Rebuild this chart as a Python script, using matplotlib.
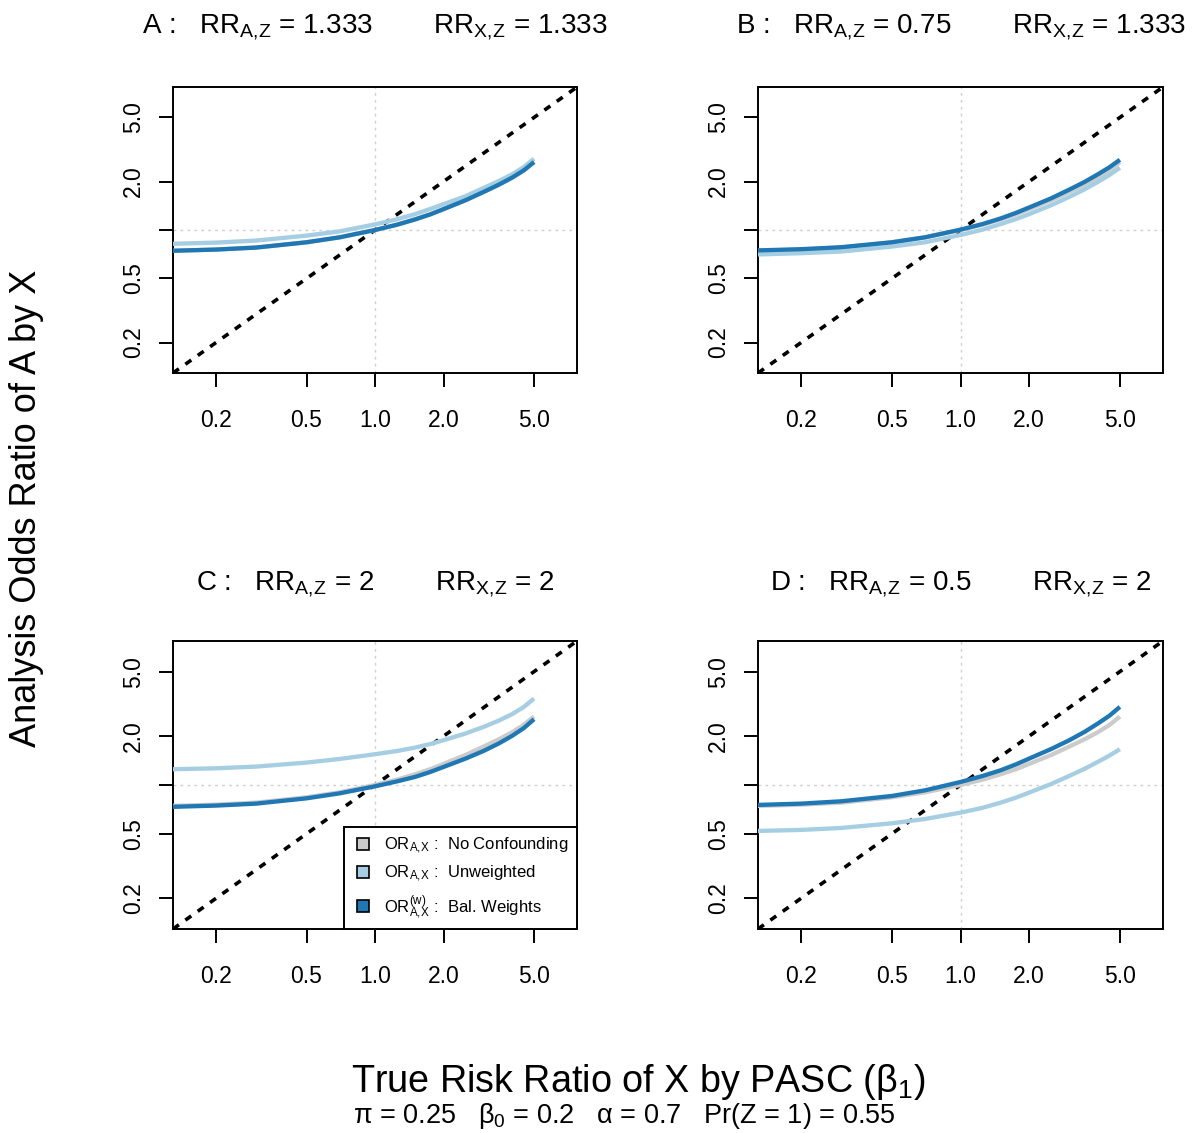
"""Analysis odds ratio of A by X against the true risk ratio, four confounding scenarios."""
import matplotlib
matplotlib.use("Agg")
import matplotlib.pyplot as plt
from matplotlib.lines import Line2D

plt.rcParams["font.family"] = ["Liberation Sans", "DejaVu Sans"]
plt.rcParams["mathtext.fontset"] = "custom"
plt.rcParams["mathtext.rm"] = "Liberation Sans"
plt.rcParams["mathtext.it"] = "Liberation Sans:italic"
plt.rcParams["mathtext.default"] = "regular"

# true risk ratio (beta_1) grid
X_RR = [0.125, 0.2, 0.3, 0.5, 0.7, 1.0, 1.25, 1.5, 1.75, 2.0, 2.5, 3.0, 3.5, 4.0, 4.5, 5.0]

# no-confounding OR, same in every panel
OR_NOCONF = [0.742, 0.756, 0.778, 0.839, 0.901, 1.000, 1.079, 1.164, 1.251, 1.348,
             1.531, 1.724, 1.912, 2.114, 2.344, 2.642]

# unweighted and balancing-weight ORs per panel
A_UNW = [0.820, 0.835, 0.860, 0.923, 0.981, 1.084, 1.167, 1.255, 1.352, 1.447,
         1.622, 1.825, 2.015, 2.216, 2.458, 2.769]
A_BAL = [0.742, 0.756, 0.778, 0.839, 0.901, 1.000, 1.079, 1.164, 1.251, 1.348,
         1.531, 1.724, 1.912, 2.114, 2.344, 2.642]
B_UNW = [0.704, 0.718, 0.735, 0.789, 0.839, 0.931, 1.005, 1.089, 1.169, 1.255,
         1.426, 1.606, 1.789, 1.988, 2.197, 2.437]
B_BAL = [0.746, 0.760, 0.782, 0.839, 0.901, 1.005, 1.089, 1.180, 1.277, 1.380,
         1.574, 1.782, 1.989, 2.216, 2.453, 2.731]
C_UNW = [1.249, 1.267, 1.298, 1.374, 1.447, 1.547, 1.620, 1.700, 1.789, 1.887,
         2.077, 2.280, 2.494, 2.731, 3.021, 3.412]
C_BAL = [0.732, 0.746, 0.767, 0.827, 0.888, 0.981, 1.052, 1.121, 1.203, 1.291,
         1.454, 1.621, 1.803, 2.006, 2.238, 2.543]
D_UNW = [0.520, 0.528, 0.543, 0.580, 0.617, 0.675, 0.723, 0.778, 0.835, 0.897,
         1.014, 1.137, 1.258, 1.387, 1.518, 1.661]
D_BAL = [0.752, 0.767, 0.793, 0.855, 0.927, 1.043, 1.136, 1.232, 1.339, 1.454,
         1.667, 1.887, 2.125, 2.391, 2.674, 3.030]

PANELS = ["A", "B", "C", "D"]
RR_AZ = ["1.333", "0.75", "2", "0.5"]
RR_XZ = ["1.333", "1.333", "2", "2"]
UNW = [A_UNW, B_UNW, C_UNW, D_UNW]
BAL = [A_BAL, B_BAL, C_BAL, D_BAL]

TICKS = [0.2, 0.5, 1.0, 2.0, 5.0]
X_TICKLABELS = ["0.2", "0.5", "1.0", "2.0", "5.0"]
Y_TICKLABELS = ["0.2", "0.5", "", "2.0", "5.0"]

GRAY = "#cbcbcb"
LIGHT = "#a6cee3"
DARK = "#1f78b4"
LIM = (0.1294, 7.73)

fig = plt.figure(figsize=(11.99, 11.33), dpi=100)
positions = [
    [0.1443, 0.6708, 0.3370, 0.2524],
    [0.6322, 0.6708, 0.3378, 0.2524],
    [0.1443, 0.1801, 0.3370, 0.2542],
    [0.6322, 0.1801, 0.3378, 0.2542],
]
title_y = [0.9709, 0.9709, 0.4793, 0.4793]
curve_kw = dict(lw=3.1, solid_capstyle="butt", solid_joinstyle="round")

for i, pos in enumerate(positions):
    ax = fig.add_axes(pos)
    ax.set_xscale("log")
    ax.set_yscale("log")
    ax.set_xlim(*LIM)
    ax.set_ylim(*LIM)
    ax.minorticks_off()
    ax.axvline(1.0, color="#d0d0d0", lw=1.0, ls=(0, (2, 3)), zorder=1)
    ax.axhline(1.0, color="#d0d0d0", lw=1.0, ls=(0, (2, 3)), zorder=1)
    ax.axline((1.0, 1.0), (2.0, 2.0), color="black", lw=2.6,
              ls=(0, (2.0, 2.2)), zorder=2)
    ax.plot(X_RR, OR_NOCONF, color=GRAY, zorder=3, **curve_kw)
    ax.plot(X_RR, UNW[i], color=LIGHT, zorder=4, **curve_kw)
    ax.plot(X_RR, BAL[i], color=DARK, zorder=5, **curve_kw)

    ax.set_xticks(TICKS)
    ax.set_xticklabels(X_TICKLABELS, fontsize=16.5)
    ax.set_yticks(TICKS)
    ax.set_yticklabels(Y_TICKLABELS, fontsize=16.5, rotation=90, va="center")
    ax.tick_params(axis="x", length=10, width=1.4, pad=16)
    ax.tick_params(axis="y", length=10, width=1.4, pad=10)
    for s in ax.spines.values():
        s.set_linewidth(1.4)

    cx = pos[0] + pos[2] / 2
    title = (f"{PANELS[i]} :   RR$_{{A,\\!Z}}$ = {RR_AZ[i]}        "
             f"RR$_{{X,\\!Z}}$ = {RR_XZ[i]}")
    fig.text(cx, title_y[i], title, ha="center", va="baseline", fontsize=20)

    if i == 2:
        handles = [
            Line2D([], [], ls="none", marker="s", ms=9, mfc=GRAY, mec="black", mew=1.2),
            Line2D([], [], ls="none", marker="s", ms=9, mfc=LIGHT, mec="black", mew=1.2),
            Line2D([], [], ls="none", marker="s", ms=9, mfc=DARK, mec="black", mew=1.2),
        ]
        labels = [
            r"OR$_{A,\!X}$ :  No Confounding",
            r"OR$_{A,\!X}$ :  Unweighted",
            r"OR$_{A,\!X}^{(w)}$ :  Bal. Weights",
        ]
        leg = ax.legend(handles, labels, loc="lower right", fontsize=12,
                        frameon=True, fancybox=False, edgecolor="black",
                        framealpha=1, borderaxespad=0, handlelength=1.3,
                        handletextpad=0.62, labelspacing=0.5, borderpad=0.5)
        leg.get_frame().set_linewidth(1.4)

fig.text(0.0225, 0.5516, "Analysis Odds Ratio of A by X", rotation=90,
         ha="center", va="center", fontsize=26)
fig.text(0.532, 0.0362, r"True Risk Ratio of X by PASC $\left(\beta_1\right)$",
         ha="center", va="baseline", fontsize=27.2)
fig.text(0.5204, 0.0088,
         r"$\pi$ = 0.25   $\beta_0$ = 0.2   $\alpha$ = 0.7   Pr(Z = 1) = 0.55",
         ha="center", va="baseline", fontsize=19.5)

fig.savefig("out.png", dpi=100)
